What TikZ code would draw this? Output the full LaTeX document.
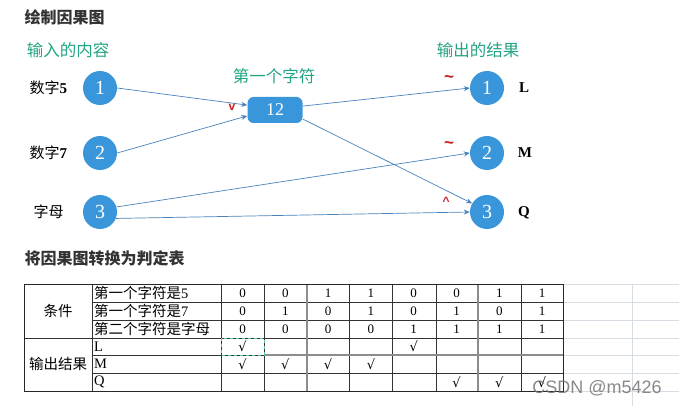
\documentclass[tikz,border=0pt]{standalone}
\usepackage{fontspec}
\setmainfont{Liberation Serif}
\newfontfamily\cjk{Noto Sans CJK SC}
\newfontfamily\marksans{Liberation Sans}
\newfontfamily\symfont{DejaVu Sans}
\usepackage{tikz}
\usetikzlibrary{arrows.meta}
\usetikzlibrary{positioning}
\definecolor{nodeblue}{HTML}{3A96DA}
\definecolor{linkblue}{HTML}{4A82BC}
\definecolor{labgreen}{HTML}{22A383}
\definecolor{markred}{HTML}{CC1A22}
\definecolor{gridgray}{HTML}{D8DCE4}
\definecolor{selgreen}{HTML}{5CC895}
\tikzset{
  cause/.style={circle, fill=nodeblue, minimum size=34pt, inner sep=0pt,
    text=white, font=\fontsize{20}{20}\selectfont},
  midbox/.style={rectangle, rounded corners=6pt, fill=nodeblue, minimum width=55pt,
    minimum height=26pt, inner sep=0pt, text=white, font=\fontsize{18}{18}\selectfont},
  link/.style={draw=linkblue, line width=0.7pt, -{Stealth[length=6pt,width=5pt]}},
  heading/.style={anchor=west, text=black!80, font=\cjk\bfseries\fontsize{16}{16}\selectfont},
  grouplabel/.style={text=labgreen, font=\cjk\fontsize{16.5}{16.5}\selectfont},
  sidelabel/.style={font=\bfseries\fontsize{15}{15}\selectfont},
  redmark/.style={text=markred, font=\marksans\bfseries\fontsize{12}{12}\selectfont},
  tilde/.style={text=markred, font=\marksans\bfseries\fontsize{17}{17}\selectfont},
  cell/.style={font=\fontsize{13}{13}\selectfont, inner sep=0pt},
  tick/.style={font=\symfont\fontsize{13}{13}\selectfont, inner sep=0pt},
  rowlabel/.style={anchor=west, inner sep=0pt, font=\fontsize{14.5}{14.5}\selectfont}
}
\begin{document}
\begin{tikzpicture}[x=1pt, y=-1pt]
\useasboundingbox (0,0) rectangle (679,406);

  % headings
  \node[heading] (title1) at (21,17) {绘制因果图};
  \node[heading] (title2) at (21,258) {将因果图转换为判定表};

  % group labels
  \node[grouplabel] (inlab) at (68,50) {输入的内容};
  \node[grouplabel] (midlab) at (274,76) {第一个字符};
  \node[grouplabel] (outlab) at (478,50) {输出的结果};

  % causes
  \node[cause] (in1) at (100,88) {1};
  \node[cause] (in2) at (100,153) {2};
  \node[cause] (in3) at (100,212) {3};
  \node[sidelabel, anchor=west] (t1) at (26,88) {{\cjk\mdseries 数字}5};
  \node[sidelabel, anchor=west] (t2) at (26,153) {{\cjk\mdseries 数字}7};
  \node[sidelabel, anchor=west] (t3) at (30,212) {{\cjk\mdseries 字母}};

  % middle node
  \node[midbox] (n12) at (275,110) {12};

  % effects
  \node[cause] (out1) at (487,88) {1};
  \node[cause] (out2) at (487,153) {2};
  \node[cause] (out3) at (487,212) {3};
  \node[sidelabel] (e1) at (524,88) {L};
  \node[sidelabel] (e2) at (525,153) {M};
  \node[sidelabel] (e3) at (524,213) {Q};

  % links
  \draw[link] (in1.east) -- (n12.170);
  \draw[link] (in2.east) -- (n12.192);
  \draw[link] (n12.8) -- (out1.west);
  \draw[link] (n12.-18) -- (out3.150);
  \draw[link] (in3.17) -- (out2.west);
  \draw[link] (in3.-22) -- (out3.west);

  % logic marks
  \node[redmark] (orsign) at (232,107) {v};
  \node[tilde] (not1) at (449,79) {\textasciitilde};
  \node[tilde] (not2) at (449,145) {\textasciitilde};
  \node[redmark] (andsign) at (446,201) {\textasciicircum};

  % sheet grid beside the table
  \foreach \y in {284,302,320,338,355,373,391}
    \draw[gridgray] (563,\y) -- (679,\y);
  \draw[gridgray] (632,284) -- (632,406);

  % decision table
  \draw[black!80, line width=0.6pt] (92,302) -- (563,302) (92,320) -- (563,320)
    (24,338) -- (563,338) (92,373) -- (563,373) (92,355) -- (264,355);
  \foreach \x in {92,221,264,349,392,436,521}
    \draw[black!80, line width=0.6pt] (\x,284) -- (\x,391);
  \draw[black!45, line width=1.2pt] (264,355) -- (563,355);
  \draw[black!45, line width=1.2pt] (307,284) -- (307,391);
  \draw[black!45, line width=1.2pt] (478,284) -- (478,391);
  \draw[black!85, line width=1pt] (24,284) rectangle (563,391);
  \draw[selgreen, dashed, line width=1pt] (221,338) rectangle (264,355);

  \node[font=\cjk\fontsize{14.5}{14.5}\selectfont] (cond) at (58,311) {条件};
  \node[font=\cjk\fontsize{14.5}{14.5}\selectfont] (res) at (58,364) {输出结果};
  \node[rowlabel] (r1) at (94,293) {{\cjk 第一个字符是}5};
  \node[rowlabel] (r2) at (94,311) {{\cjk 第一个字符是}7};
  \node[rowlabel] (r3) at (94,329) {\cjk 第二个字符是字母};
  \node[rowlabel] (r4) at (94,346.5) {L};
  \node[rowlabel] (r5) at (94,364) {M};
  \node[rowlabel] (r6) at (94,382) {Q};

  \foreach \v [count=\c] in {0,0,1,1,0,0,1,1}
    \node[cell] (a\c) at ({199.7+42.8*\c},293) {\v};
  \foreach \v [count=\c] in {0,1,0,1,0,1,0,1}
    \node[cell] (b\c) at ({199.7+42.8*\c},311) {\v};
  \foreach \v [count=\c] in {0,0,0,0,1,1,1,1}
    \node[cell] (c\c) at ({199.7+42.8*\c},329) {\v};
  \foreach \c in {1,5}
    \node[tick] (l\c) at ({199.7+42.8*\c},346.5) {√};
  \foreach \c in {1,2,3,4}
    \node[tick] (m\c) at ({199.7+42.8*\c},364) {√};
  \foreach \c in {6,7,8}
    \node[tick] (q\c) at ({199.7+42.8*\c},382) {√};

  % watermark
  \node[text=black!55, opacity=0.85, font=\marksans\fontsize{18}{18}\selectfont] (wm) at (597,388) {CSDN @m5426};

\end{tikzpicture}
\end{document}
